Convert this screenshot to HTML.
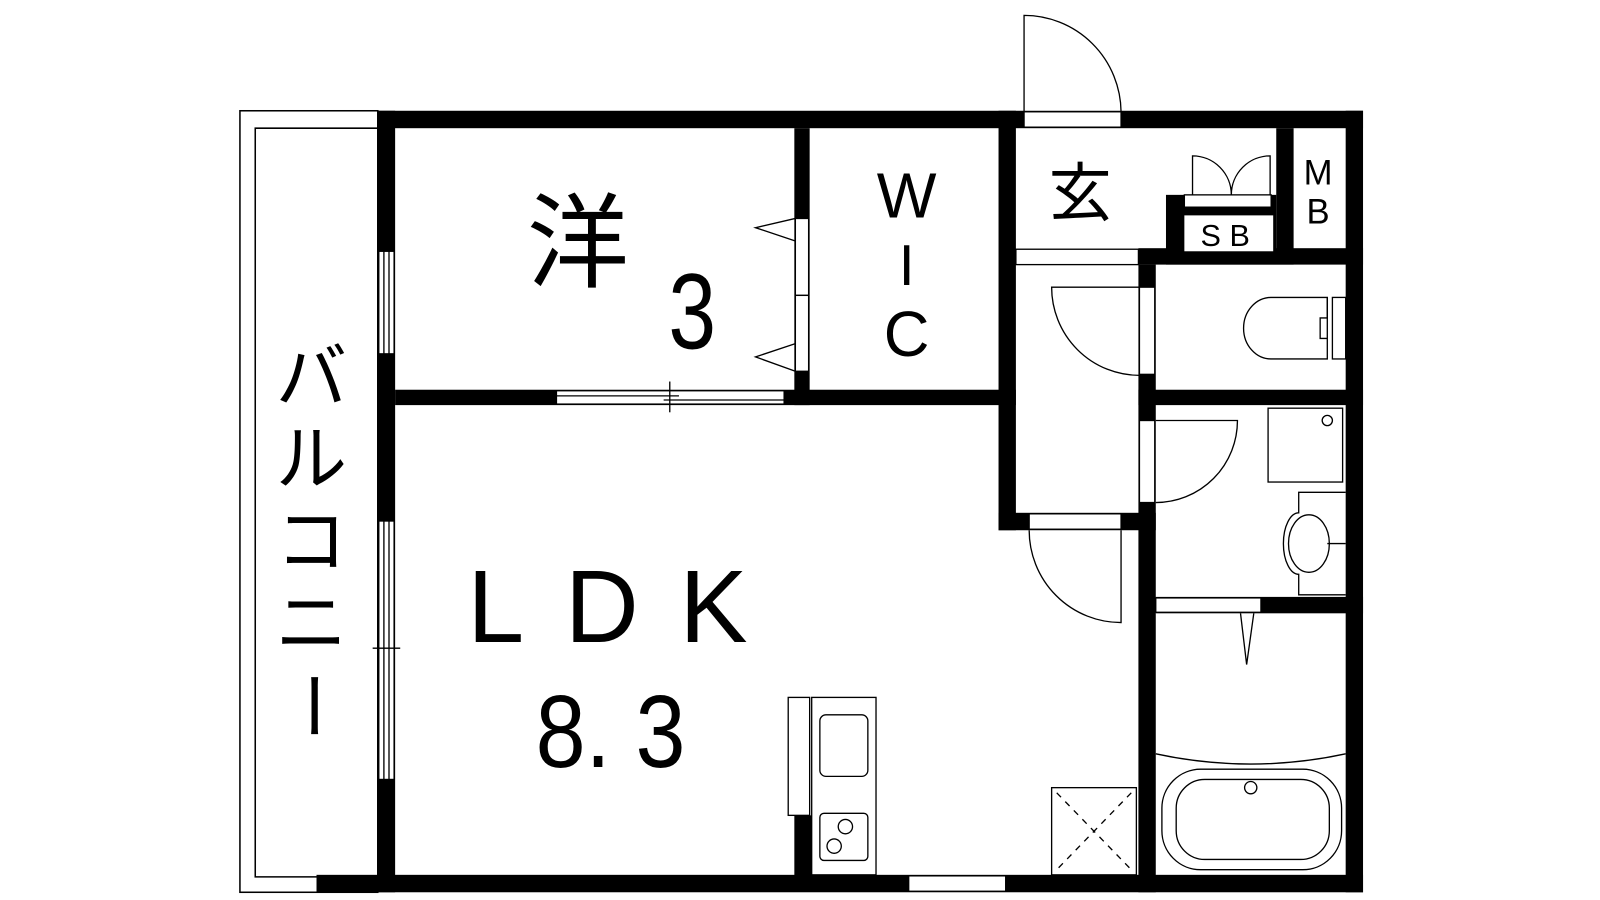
<!DOCTYPE html>
<html><head><meta charset="utf-8"><style>
html,body{margin:0;padding:0;background:#fff;width:1600px;height:900px;overflow:hidden}
svg{display:block}
text{font-family:"Liberation Sans","Noto Sans CJK JP",sans-serif;fill:#000}
</style></head><body>
<svg width="1600" height="900" viewBox="0 0 1600 900" xmlns="http://www.w3.org/2000/svg">
<g transform="scale(1.021 1.0256)">
<g fill="none" stroke="#000" stroke-width="1.5">
 <rect x="235" y="108" width="135" height="762"/>
 <path d="M370 125 H250 V855 H310"/>
</g>
<g fill="#000">
 <rect x="370" y="108" width="965" height="17"/>
 <rect x="370" y="108" width="17" height="762"/>
 <rect x="310" y="853" width="1025" height="17"/>
 <rect x="1318" y="108" width="17" height="762"/>
 <rect x="387" y="380" width="608" height="15"/>
 <rect x="778" y="125" width="15" height="270"/>
 <rect x="978" y="108" width="17" height="409"/>
 <rect x="978" y="500" width="154" height="17"/>
 <rect x="1115" y="258" width="17" height="612"/>
 <rect x="1115" y="242" width="220" height="16"/>
 <rect x="1115" y="380" width="220" height="15"/>
 <rect x="1132" y="582" width="203" height="16"/>
 <rect x="1142" y="190" width="108" height="68"/>
 <rect x="1250" y="125" width="17" height="133"/>
 <rect x="778" y="795" width="17" height="60"/>
</g>
<g fill="#fff" stroke="#000" stroke-width="1.3">
 <rect x="371" y="245" width="15" height="100"/>
 <rect x="371" y="508" width="15" height="252"/>
 <rect x="545" y="381" width="223" height="13"/>
 <rect x="779" y="213" width="13" height="75"/>
 <rect x="779" y="288" width="13" height="74"/>
 <rect x="1003" y="109" width="95" height="15"/>
 <rect x="995" y="243" width="120" height="15"/>
 <rect x="1116" y="280" width="15" height="85"/>
 <rect x="1116" y="410" width="15" height="80"/>
 <rect x="1008" y="501" width="90" height="15"/>
 <rect x="1132" y="583" width="103" height="14"/>
 <rect x="890" y="854" width="95" height="15"/>
 <rect x="1160" y="210" width="87" height="35" stroke="none"/>
 <rect x="1160" y="190" width="85" height="12"/>
</g>
<g fill="none" stroke="#000" stroke-width="1.3">
 <line x1="376" y1="245" x2="376" y2="345"/><line x1="381" y1="245" x2="381" y2="345"/>
 <line x1="376" y1="508" x2="376" y2="760"/><line x1="381" y1="508" x2="381" y2="760"/>
 <line x1="365" y1="632" x2="392" y2="632"/>
 <line x1="545" y1="386" x2="665" y2="386"/><line x1="650" y1="390" x2="768" y2="390"/>
 <line x1="656" y1="372" x2="656" y2="402"/>
 <path d="M779 213 L740 222 L779 235"/><path d="M779 335 L740 348 L779 362"/>
 <path d="M1003 109 V15 A95 95 0 0 1 1098 109"/>
 <path d="M1116 280 H1030 A86 86 0 0 0 1116 366"/>
 <path d="M1132 410 H1212 A80 80 0 0 1 1132 490"/>
 <path d="M1098 517 V607 A90 90 0 0 1 1008 517"/>
 <path d="M1168 190 V152 A38 38 0 0 1 1206 190 A38 38 0 0 1 1244 152 V190"/>
 <path d="M1300 290 H1245 A27 30 0 0 0 1245 350 H1300 Z"/>
 <path d="M1300 290 V310 H1293 V330 H1300"/>
 <rect x="1305" y="290" width="13" height="60"/>
 <rect x="1242" y="398" width="73" height="72"/>
 <circle cx="1300" cy="410" r="5"/>
 <path d="M1318 480 H1272 V500 A15 30 0 0 0 1272 560 V580 H1318"/>
 <ellipse cx="1282" cy="530" rx="20" ry="28"/>
 <line x1="1300" y1="530" x2="1318" y2="530"/>
 <path d="M1215 598 L1221 648 L1228 598"/>
 <path d="M1132 735 Q1225 755 1318 735"/>
 <rect x="1138" y="750" width="176" height="98" rx="38"/>
 <rect x="1152" y="760" width="150" height="78" rx="28"/>
 <circle cx="1225" cy="768" r="6"/>
 <rect x="772" y="680" width="21" height="115"/>
 <rect x="795" y="680" width="63" height="173"/>
 <rect x="803" y="697" width="47" height="60" rx="6"/>
 <rect x="803" y="793" width="47" height="46" rx="4"/>
 <circle cx="828" cy="806" r="7"/><circle cx="817" cy="825" r="7"/>
 <rect x="1030" y="768" width="83" height="85"/>
 <path d="M1035 773 L1108 848 M1108 773 L1035 848" stroke-dasharray="6 6"/>
</g>
<text x="566" y="272" font-size="100" text-anchor="middle">洋</text>
<text x="678" y="340" font-size="105" text-anchor="middle" transform="translate(678 0) scale(0.8 1) translate(-678 0)">3</text>
<text x="888" y="212" font-size="62" text-anchor="middle">W</text>
<text x="888" y="278" font-size="56" text-anchor="middle">I</text>
<text x="888" y="347" font-size="62" text-anchor="middle">C</text>
<text x="1058" y="210" font-size="62" text-anchor="middle">玄</text>
<text x="1200" y="240" font-size="30" text-anchor="middle">S B</text>
<text x="1291" y="180" font-size="34" text-anchor="middle">M</text>
<text x="1291" y="218" font-size="34" text-anchor="middle">B</text>
<text x="615" y="626" font-size="100" text-anchor="middle" letter-spacing="40">LDK</text>
<text x="598" y="748" font-size="100" text-anchor="middle" transform="translate(598 0) scale(0.88 1) translate(-598 0)">8. 3</text>
<g font-size="70" text-anchor="middle">
 <text x="305" y="392">バ</text>
 <text x="305" y="472">ル</text>
 <text x="305" y="552">コ</text>
 <text x="305" y="632">ニ</text>
 <text x="305" y="712" transform="rotate(90 305 688)">ー</text>
</g>
</g>
</svg>
</body></html>
